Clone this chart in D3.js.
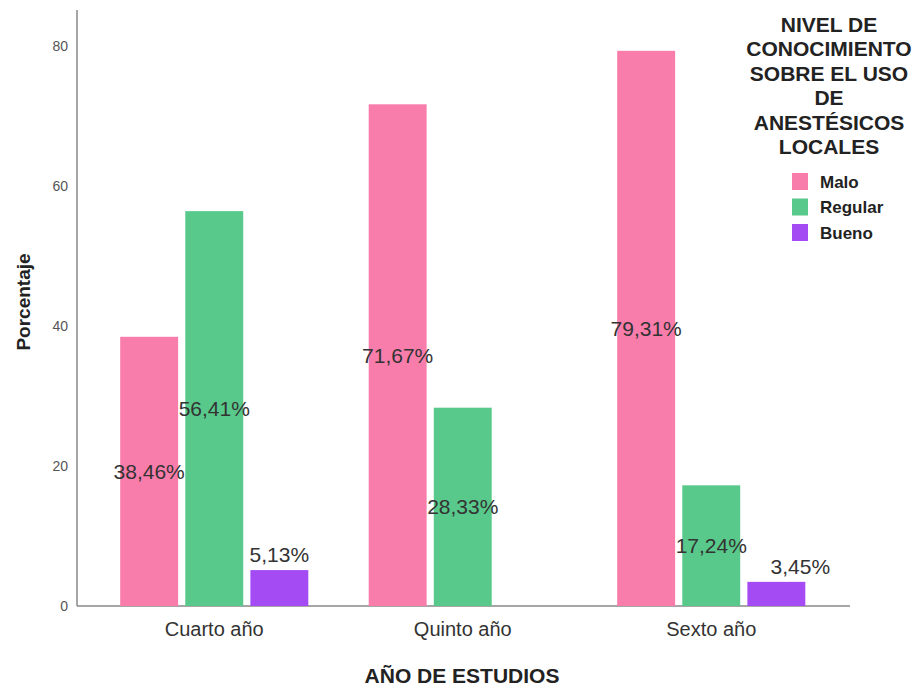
<!DOCTYPE html>
<html>
<head>
<meta charset="utf-8">
<script src="https://cdn.jsdelivr.net/npm/d3@7"></script>
<style>
  body { margin: 0; background: #fff; }
  text { font-family: "Liberation Sans", Arial, sans-serif; }
</style>
</head>
<body>
<script>
// Width and height
var w = 920;
var h = 688;

// Data
var categories = ["Cuarto año", "Quinto año", "Sexto año"];
var levels = ["Malo", "Regular", "Bueno"];
var malo = [38.46, 71.67, 79.31];
var regular = [56.41, 28.33, 17.24];
var bueno = [5.13, 0, 3.45];
var yTicks = [0, 20, 40, 60, 80];
var colorList = ["#f97dab", "#59c98b", "#a54bf4"];
var legendTitle = ["NIVEL DE", "CONOCIMIENTO", "SOBRE EL USO", "DE", "ANESTÉSICOS", "LOCALES"];

var dataset = categories.map(function(c, i) {
  return { cat: c, Malo: malo[i], Regular: regular[i], Bueno: bueno[i] };
});

var svg = d3.select("body")
  .append("svg")
  .attr("width", w)
  .attr("height", h);

// Scales
var x0 = d3.scaleBand()
  .domain(categories)
  .range([90, 835.5])
  .paddingInner(0.243)
  .paddingOuter(0.1215);

var x1 = d3.scaleBand()
  .domain(levels)
  .range([0, x0.bandwidth()])
  .paddingInner(0.11);

var yScale = d3.scaleLinear()
  .domain([0, 85])
  .range([606, 11]);

var colors = d3.scaleOrdinal().domain(levels).range(colorList);

// Axes lines
svg.append("line")
  .attr("x1", 77).attr("x2", 77)
  .attr("y1", 10).attr("y2", yScale(0))
  .attr("stroke", "#888").attr("stroke-width", 1.5);

svg.append("line")
  .attr("x1", 77).attr("x2", 850)
  .attr("y1", yScale(0)).attr("y2", yScale(0))
  .attr("stroke", "#888").attr("stroke-width", 1.5);

// y ticks
var yAxis = d3.axisLeft(yScale).tickValues(yTicks).tickSize(0).tickPadding(9);
var gy = svg.append("g").attr("transform", "translate(77,0)").call(yAxis);
gy.select(".domain").remove();
gy.selectAll("text")
  .style("font-family", "'Liberation Sans', Arial, sans-serif")
  .style("font-size", "14px")
  .attr("fill", "#555");

// x axis labels
var xAxis = d3.axisBottom(x0).tickSize(0).tickPadding(16);
var gx = svg.append("g").attr("transform", "translate(0," + yScale(0) + ")").call(xAxis);
gx.select(".domain").remove();
gx.selectAll("text")
  .style("font-family", "'Liberation Sans', Arial, sans-serif")
  .style("font-size", "20px")
  .attr("fill", "#333");

// Bars
var groups = svg.selectAll("g.grp")
  .data(dataset)
  .enter()
  .append("g")
  .attr("class", "grp")
  .attr("transform", function(d) { return "translate(" + x0(d.cat) + ",0)"; });

var cells = groups.selectAll("g.cell")
  .data(function(d, gi) {
    return levels.map(function(k) { return { key: k, value: d[k], gi: gi }; });
  })
  .enter()
  .append("g")
  .attr("class", "cell");

cells.filter(function(d) { return d.value > 0; })
  .append("rect")
  .attr("x", function(d) { return x1(d.key); })
  .attr("y", function(d) { return yScale(d.value); })
  .attr("width", x1.bandwidth())
  .attr("height", function(d) { return yScale(0) - yScale(d.value); })
  .attr("fill", function(d) { return colors(d.key); });

// Value labels (middle of bar, or above if bar is small)
cells.filter(function(d) { return d.value > 0; })
  .append("text")
  .attr("x", function(d) {
    var cx = x1(d.key) + x1.bandwidth() / 2;
    if (d.value < 10 && d.gi === categories.length - 1) cx += 24;
    return cx;
  })
  .attr("y", function(d) {
    if (d.value < 10) return yScale(d.value) - 15;
    return (yScale(d.value) + yScale(0)) / 2;
  })
  .attr("dy", "0.35em")
  .attr("text-anchor", "middle")
  .style("font-size", "21px")
  .attr("fill", "#333")
  .text(function(d) { return d3.format(".2f")(d.value).replace(".", ",") + "%"; });

// Axis titles
svg.append("text")
  .attr("transform", "translate(30,302) rotate(-90)")
  .attr("text-anchor", "middle")
  .style("font-size", "19px")
  .style("font-weight", "bold")
  .attr("fill", "#222")
  .text("Porcentaje");

svg.append("text")
  .attr("x", 462)
  .attr("y", 683)
  .attr("text-anchor", "middle")
  .style("font-size", "21px")
  .style("font-weight", "bold")
  .attr("fill", "#222")
  .text("AÑO DE ESTUDIOS");

// Legend
var legend = svg.append("g");
legend.selectAll("text.title")
  .data(legendTitle)
  .enter()
  .append("text")
  .attr("class", "title")
  .attr("x", 829)
  .attr("y", function(d, i) { return 32 + i * 24.4; })
  .attr("text-anchor", "middle")
  .style("font-size", "21px")
  .style("font-weight", "bold")
  .attr("fill", "#222")
  .text(function(d) { return d; });

var items = legend.selectAll("g.item")
  .data(levels)
  .enter()
  .append("g")
  .attr("class", "item")
  .attr("transform", function(d, i) { return "translate(792," + (173 + i * 25.5) + ")"; });

items.append("rect")
  .attr("width", 16)
  .attr("height", 17)
  .attr("fill", function(d) { return colors(d); });

items.append("text")
  .attr("x", 28)
  .attr("y", 9)
  .attr("dy", "0.35em")
  .style("font-size", "17px")
  .style("font-weight", "bold")
  .attr("fill", "#222")
  .text(function(d) { return d; });
</script>
</body>
</html>
